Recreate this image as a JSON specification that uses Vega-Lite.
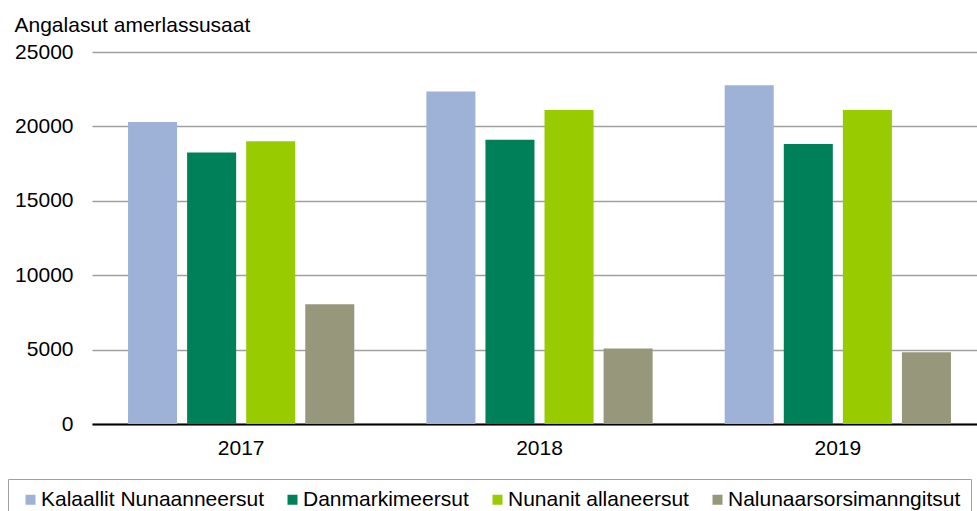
{
  "$schema": "https://vega.github.io/schema/vega-lite/v6.json",
  "autosize": {"type": "none"},
  "width": 885,
  "height": 372,
  "padding": {"left": 92, "top": 52, "right": 0, "bottom": 87},
  "background": "white",
  "config": {
    "font": "Liberation Sans",
    "view": {"stroke": null}
  },
  "data": {
    "values": [
      {"year": "2017", "group": "Kalaallit Nunaanneersut", "value": 20300},
      {"year": "2017", "group": "Danmarkimeersut", "value": 18250},
      {"year": "2017", "group": "Nunanit allaneersut", "value": 19000},
      {"year": "2017", "group": "Nalunaarsorsimanngitsut", "value": 8050},
      {"year": "2018", "group": "Kalaallit Nunaanneersut", "value": 22350},
      {"year": "2018", "group": "Danmarkimeersut", "value": 19100},
      {"year": "2018", "group": "Nunanit allaneersut", "value": 21100},
      {"year": "2018", "group": "Nalunaarsorsimanngitsut", "value": 5070},
      {"year": "2019", "group": "Kalaallit Nunaanneersut", "value": 22770},
      {"year": "2019", "group": "Danmarkimeersut", "value": 18820},
      {"year": "2019", "group": "Nunanit allaneersut", "value": 21100},
      {"year": "2019", "group": "Nalunaarsorsimanngitsut", "value": 4830}
    ]
  },
  "mark": {"type": "bar"},
  "encoding": {
    "x": {
      "field": "year",
      "type": "nominal",
      "scale": {"range": [0, 895], "paddingInner": 0, "paddingOuter": 0},
      "axis": {
        "title": null,
        "labelAngle": 0,
        "labelFontSize": 21,
        "labelColor": "#000000",
        "labelPadding": 13,
        "ticks": false,
        "tickSize": 0,
        "domainColor": "#000000",
        "domainWidth": 2,
        "grid": false
      }
    },
    "xOffset": {
      "field": "group",
      "type": "nominal",
      "sort": ["Kalaallit Nunaanneersut", "Danmarkimeersut", "Nunanit allaneersut", "Nalunaarsorsimanngitsut"],
      "scale": {"paddingInner": 0.17, "paddingOuter": 0.61}
    },
    "y": {
      "field": "value",
      "type": "quantitative",
      "scale": {"domain": [0, 25000], "nice": false},
      "axis": {
        "title": "Angalasut amerlassusaat",
        "titleAngle": 0,
        "titleAlign": "left",
        "titleBaseline": "middle",
        "titleX": -78,
        "titleY": -27,
        "titleFontSize": 21,
        "titleFontWeight": "normal",
        "titleColor": "#000000",
        "values": [0, 5000, 10000, 15000, 20000, 25000],
        "format": "d",
        "labelFontSize": 21,
        "labelColor": "#000000",
        "labelPadding": 19,
        "ticks": false,
        "tickSize": 0,
        "domain": false,
        "grid": true,
        "gridColor": "#A0A0A0",
        "gridWidth": 1.5
      }
    },
    "color": {
      "field": "group",
      "type": "nominal",
      "sort": ["Kalaallit Nunaanneersut", "Danmarkimeersut", "Nunanit allaneersut", "Nalunaarsorsimanngitsut"],
      "scale": {
        "domain": ["Kalaallit Nunaanneersut", "Danmarkimeersut", "Nunanit allaneersut", "Nalunaarsorsimanngitsut"],
        "range": ["#9EB1D6", "#008058", "#99CC00", "#97977C"]
      },
      "legend": {
        "title": " ",
        "titleOrient": "left",
        "titleFontSize": 21,
        "titlePadding": 2,
        "orient": "none",
        "direction": "horizontal",
        "legendX": -84,
        "legendY": 427,
        "padding": 10,
        "strokeColor": "#A0A0A0",
        "symbolType": "square",
        "symbolSize": 100,
        "symbolStrokeWidth": 0,
        "labelFontSize": 21,
        "labelColor": "#000000",
        "labelOffset": 0,
        "columnPadding": 18,
        "labelLimit": 400
      }
    }
  }
}
